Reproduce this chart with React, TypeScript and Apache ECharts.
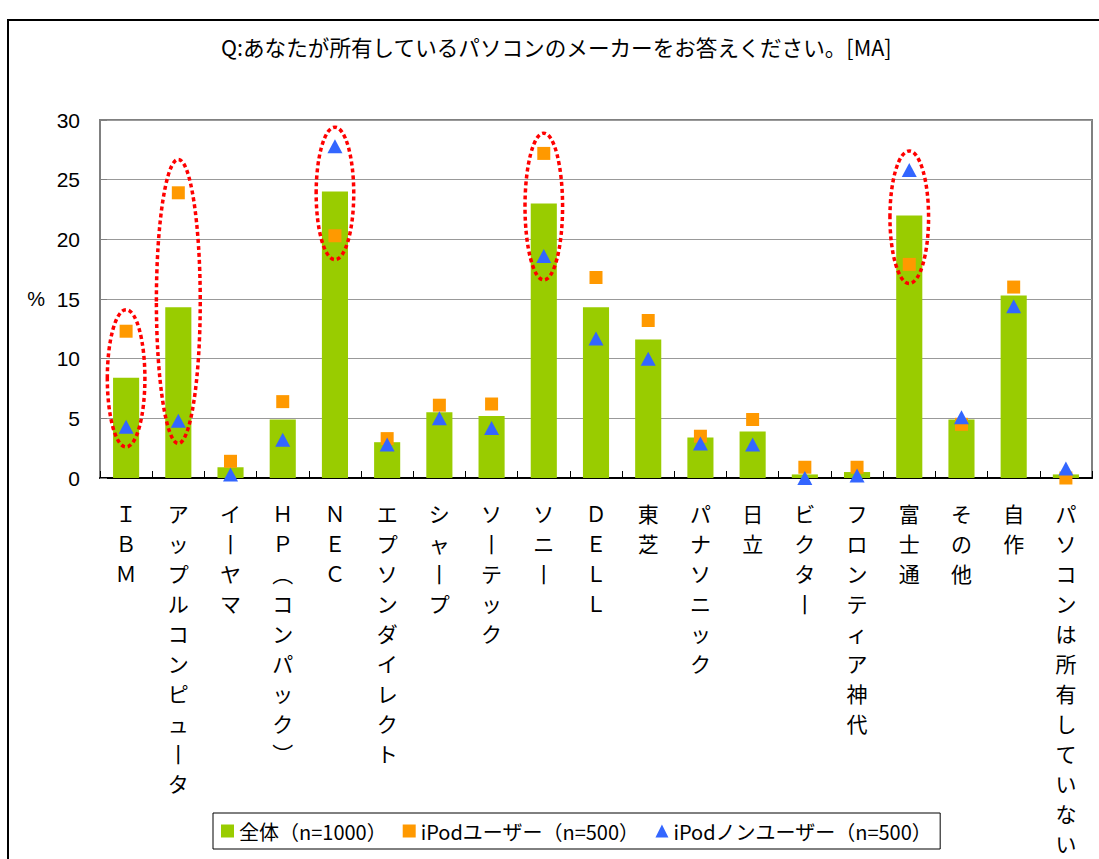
import React, { useEffect, useRef } from "react";
import * as echarts from "echarts";

const titleText = "Q:あなたが所有しているパソコンのメーカーをお答えください。[MA]";

const categories = [
  "ＩＢＭ",
  "アップルコンピュータ",
  "イーヤマ",
  "ＨＰ（コンパック）",
  "ＮＥＣ",
  "エプソンダイレクト",
  "シャープ",
  "ソーテック",
  "ソニー",
  "ＤＥＬＬ",
  "東芝",
  "パナソニック",
  "日立",
  "ビクター",
  "フロンティア神代",
  "富士通",
  "その他",
  "自作",
  "パソコンは所有していない",
];

const seriesNames = ["全体（n=1000）", "iPodユーザー（n=500）", "iPodノンユーザー（n=500）"];

const allValues = [8.4, 14.3, 0.9, 4.9, 24.0, 3.0, 5.5, 5.2, 23.0, 14.3, 11.6, 3.4, 3.9, 0.3, 0.5, 22.0, 4.9, 15.3, 0.3];
const ipodUsers = [12.3, 23.9, 1.4, 6.4, 20.3, 3.3, 6.1, 6.2, 27.2, 16.8, 13.2, 3.5, 4.9, 0.9, 0.9, 17.9, 4.5, 16.0, 0.0];
const nonUsers = [4.3, 4.8, 0.3, 3.2, 27.8, 2.8, 5.0, 4.2, 18.6, 11.7, 10.0, 2.9, 2.8, 0.0, 0.2, 25.8, 5.1, 14.4, 0.8];

const yTicks = { min: 0, max: 30, interval: 5 };

// highlighted categories (red dotted ellipses): index, top value, bottom value
const highlightIndex = [0, 1, 4, 8, 15];
const highlightTop = [14.1, 26.7, 29.4, 28.9, 27.4];
const highlightBottom = [2.6, 2.9, 18.3, 16.6, 16.3];
const highlightWidthBand = [0.36, 0.42, 0.36, 0.36, 0.37];

const verticalMap: Record<string, string> = {
  "ー": "丨",
  "（": "︵",
  "）": "︶",
};

function toVertical(s: string): string {
  return Array.from(s)
    .map((c) => verticalMap[c] ?? c)
    .join("\n");
}

export default function App() {
  const ref = useRef<HTMLDivElement>(null);

  useEffect(() => {
    if (!ref.current) return;
    const chart = echarts.init(ref.current, null, { renderer: "svg" });
    const jp = "'Noto Sans CJK JP', sans-serif";
    chart.setOption({
      animation: false,
      backgroundColor: "#ffffff",
      title: {
        text: titleText,
        left: 221,
        top: 36,
        padding: 0,
        textStyle: { fontFamily: jp, fontSize: 21.6, fontWeight: "normal", color: "#000" },
      },
      legend: {
        left: 213,
        top: 813,
        padding: [7, 8, 7, 8],
        itemGap: 16,
        itemWidth: 13,
        itemHeight: 13,
        borderColor: "#000",
        borderWidth: 1,
        backgroundColor: "#fff",
        textStyle: { fontFamily: jp, fontSize: 20, color: "#000", lineHeight: 22 },
        data: [
          { name: seriesNames[0], icon: "rect" },
          { name: seriesNames[1], icon: "rect" },
          { name: seriesNames[2], icon: "triangle" },
        ],
      },
      grid: {
        left: 100,
        top: 120,
        right: 7,
        bottom: 381,
        show: true,
        borderColor: "#808080",
        borderWidth: 2,
        backgroundColor: "#fff",
      },
      xAxis: {
        type: "category",
        data: categories,
        axisLine: { show: true, lineStyle: { color: "#000", width: 2 } },
        axisTick: { show: true, inside: true, length: 7, alignWithLabel: false, lineStyle: { color: "#000" } },
        axisLabel: {
          interval: 0,
          margin: 20,
          fontFamily: jp,
          fontSize: 21,
          lineHeight: 30,
          color: "#000",
          formatter: (v: string) => toVertical(v),
        },
        splitLine: { show: false },
      },
      yAxis: {
        type: "value",
        min: yTicks.min,
        max: yTicks.max,
        interval: yTicks.interval,
        name: "%",
        nameLocation: "middle",
        nameRotate: 0,
        nameGap: 55,
        nameTextStyle: { fontFamily: "'Liberation Sans', Arial, sans-serif", fontSize: 20, color: "#000" },
        axisLine: { show: true, lineStyle: { color: "#808080", width: 1.5 } },
        axisTick: { show: true, inside: true, length: 7, lineStyle: { color: "#808080" } },
        axisLabel: {
          margin: 20,
          fontFamily: "'Liberation Sans', Arial, sans-serif",
          fontSize: 21,
          color: "#000",
        },
        splitLine: { show: true, lineStyle: { color: "#999999", width: 1 } },
      },
      series: [
        {
          name: seriesNames[0],
          type: "bar",
          data: allValues,
          barWidth: "50%",
          itemStyle: { color: "#99CC00" },
          z: 2,
        },
        {
          name: seriesNames[1],
          type: "scatter",
          data: ipodUsers,
          symbol: "rect",
          symbolSize: 13,
          itemStyle: { color: "#FF9900", opacity: 1 },
          z: 3,
        },
        {
          name: seriesNames[2],
          type: "scatter",
          data: nonUsers,
          symbol: "triangle",
          symbolSize: [15, 14],
          itemStyle: { color: "#3366FF", opacity: 1 },
          z: 4,
        },
      ],
    });

    const p0 = chart.convertToPixel({ gridIndex: 0 }, [0, 0]) as number[];
    const p1 = chart.convertToPixel({ gridIndex: 0 }, [1, 0]) as number[];
    const band = Math.abs(p1[0] - p0[0]);
    const ellipses = highlightIndex.map((idx, i) => {
      const top = chart.convertToPixel({ gridIndex: 0 }, [idx, highlightTop[i]]) as number[];
      const bot = chart.convertToPixel({ gridIndex: 0 }, [idx, highlightBottom[i]]) as number[];
      return {
        type: "ellipse",
        z: 100,
        shape: {
          cx: top[0],
          cy: (top[1] + bot[1]) / 2,
          rx: band * highlightWidthBand[i],
          ry: Math.abs(bot[1] - top[1]) / 2,
        },
        style: { fill: "none", stroke: "#FF0000", lineWidth: 3.5, lineDash: [4, 3] },
      };
    });
    chart.setOption({
      graphic: [
        {
          type: "polyline",
          z: 100,
          shape: { points: [[8, 859], [8, 20], [1099, 20]] },
          style: { fill: "none", stroke: "#000", lineWidth: 2 },
        },
        ...ellipses,
      ],
    });

    return () => chart.dispose();
  }, []);

  return (
    <div
      ref={ref}
      style={{ position: "fixed", left: 0, top: 0, width: 1099, height: 859, background: "#fff" }}
    />
  );
}
